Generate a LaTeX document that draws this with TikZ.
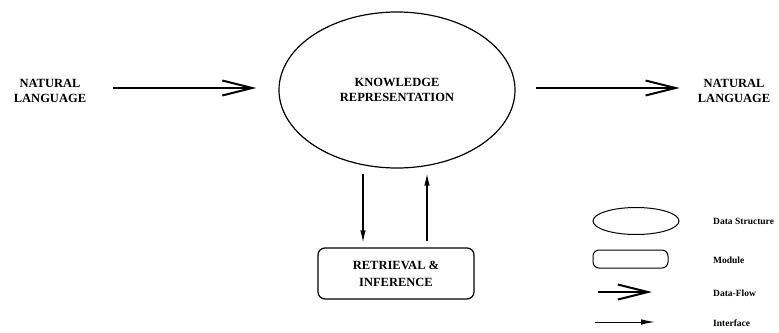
\documentclass[tikz,border=0pt]{standalone}
\usepackage{fontspec}
\setmainfont{Liberation Serif}
\usetikzlibrary{arrows.meta,shapes.geometric,calc}
\begin{document}
\begin{tikzpicture}[x=1pt,y=-1pt,
  lbl/.style={font=\fontsize{12.5}{15}\selectfont\bfseries, align=center, inner sep=0pt},
  legendtext/.style={font=\fontsize{9.5}{11}\selectfont\bfseries, anchor=west, inner sep=0pt},
  datastruct/.style={draw, ellipse, line width=1.2pt, inner sep=0pt},
  module/.style={draw, rounded corners=7pt, line width=1.2pt, inner sep=0pt},
  dataflow/.style={line width=2.2pt, -{Straight Barb[length=30pt,width=15pt,line width=2pt]}},
  iface/.style={line width=1.2pt, -{Latex[length=12pt,width=5.5pt]}}
]
\useasboundingbox (0,0) rectangle (779,332);

% main nodes
\node[lbl] (nlin) at (50,91) {NATURAL\\LANGUAGE};
\node[datastruct, minimum width=236pt, minimum height=156pt, lbl] (kr) at (397,90)
  {KNOWLEDGE\\REPRESENTATION};
\node[lbl] (nlout) at (734,91) {NATURAL\\LANGUAGE};
\node[module, minimum width=156pt, minimum height=51pt, lbl] (ri) at (396,273.5)
  {RETRIEVAL \&\\[2pt]INFERENCE};

% data flow into and out of the representation
\draw[dataflow] ($(nlin.east)+(27,-3)$) -- ($(kr.west)+(-22,-2)$);
\draw[dataflow] ($(kr.east)+(20,-2)$) -- ($(nlout.west)+(-18,-3)$);

% interfaces between representation and retrieval module
\draw[iface] ($(kr.south)+(-34,5)$) -- ($(ri.north)+(-33,-5)$);
\draw[iface] ($(ri.north)+(31,-6)$) -- ($(kr.south)+(30,5)$);

% legend
\node[datastruct, minimum width=86pt, minimum height=27pt, line width=1pt] (lgds) at (636,221) {};
\node[legendtext] (lgdst) at (713,221) {Data Structure};
\node[module, minimum width=75pt, minimum height=18pt, rounded corners=6pt, line width=1pt] (lgmod) at (630.5,259) {};
\node[legendtext] (lgmodt) at (713,260) {Module};
\coordinate (dfa) at (598,292);
\coordinate (dfb) at (652,292);
\draw[dataflow, line width=2pt] (dfa) -- (dfb);
\node[legendtext] (lgdft) at (713,293) {Data-Flow};
\coordinate (ifa) at (595,322);
\coordinate (ifb) at (655,322);
\draw[line width=1pt, -{Latex[length=14pt,width=5.5pt]}] (ifa) -- (ifb);
\node[legendtext] (lgift) at (713,323) {Interface};
\end{tikzpicture}
\end{document}
